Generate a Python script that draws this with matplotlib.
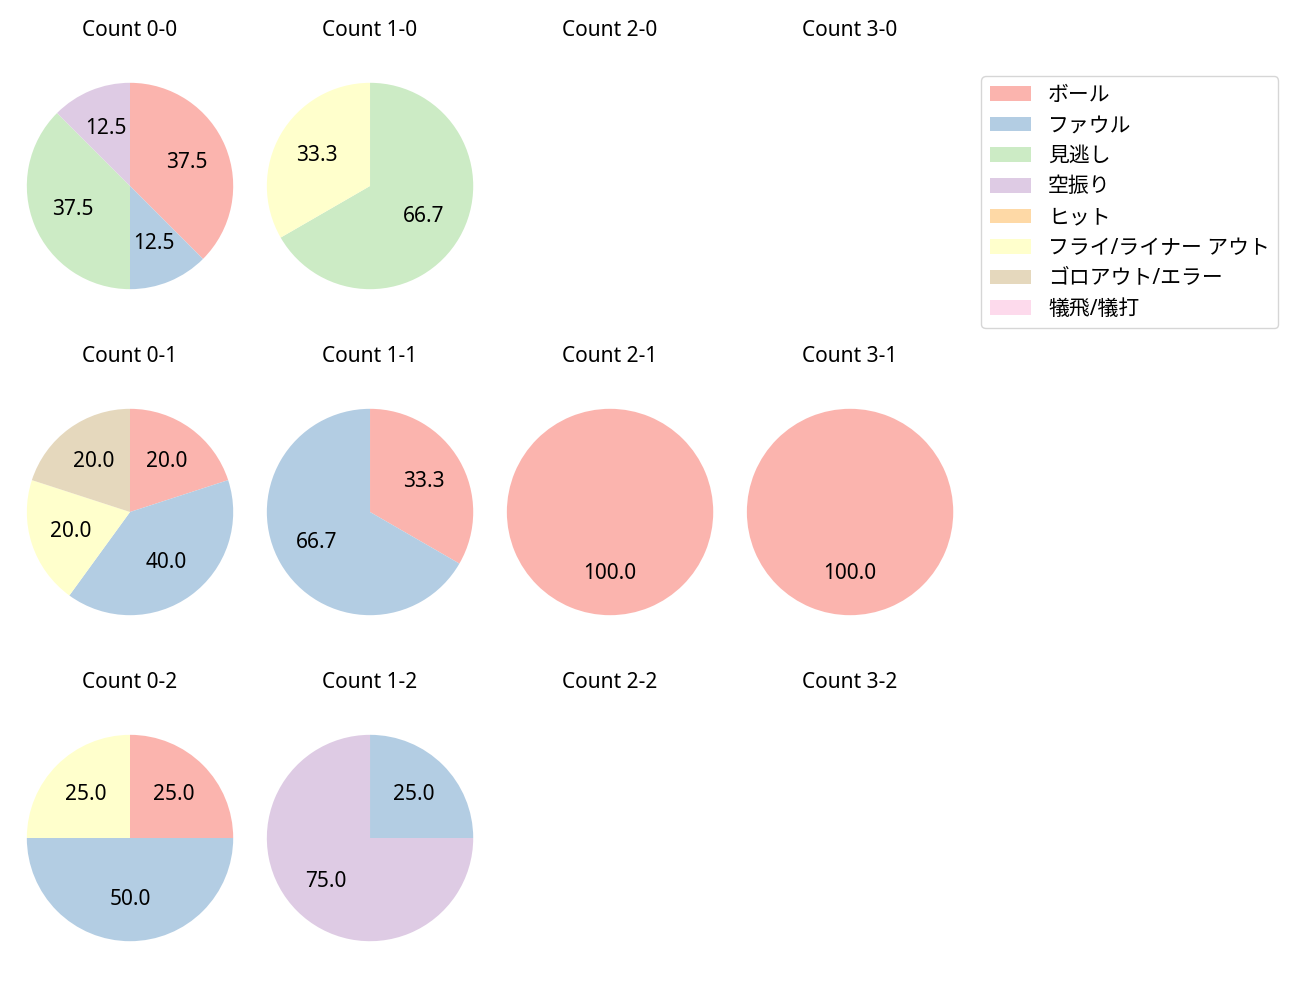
import matplotlib

matplotlib.use("Agg")
import matplotlib.pyplot as plt
from matplotlib.patches import Patch

plt.rcParams["font.family"] = ["Noto Sans", "Noto Sans CJK JP", "DejaVu Sans"]
plt.rcParams["font.size"] = 15

categories = [
    "ボール",
    "ファウル",
    "見逃し",
    "空振り",
    "ヒット",
    "フライ/ライナー アウト",
    "ゴロアウト/エラー",
    "犠飛/犠打",
]
colors = ["#fbb4ae", "#b3cde3", "#ccebc5", "#decbe4", "#fed9a6", "#ffffcc", "#e5d8bd", "#fddaec"]

# pitch counts per category (same order as categories)
balls = [0, 1, 2, 3]
strikes = [0, 1, 2]
count_0_0 = [3, 1, 3, 1, 0, 0, 0, 0]
count_1_0 = [0, 0, 2, 0, 0, 1, 0, 0]
count_2_0 = [0, 0, 0, 0, 0, 0, 0, 0]
count_3_0 = [0, 0, 0, 0, 0, 0, 0, 0]
count_0_1 = [1, 2, 0, 0, 0, 1, 1, 0]
count_1_1 = [1, 2, 0, 0, 0, 0, 0, 0]
count_2_1 = [1, 0, 0, 0, 0, 0, 0, 0]
count_3_1 = [1, 0, 0, 0, 0, 0, 0, 0]
count_0_2 = [1, 2, 0, 0, 0, 1, 0, 0]
count_1_2 = [0, 1, 0, 3, 0, 0, 0, 0]
count_2_2 = [0, 0, 0, 0, 0, 0, 0, 0]
count_3_2 = [0, 0, 0, 0, 0, 0, 0, 0]

table = {
    (0, 0): count_0_0, (1, 0): count_1_0, (2, 0): count_2_0, (3, 0): count_3_0,
    (0, 1): count_0_1, (1, 1): count_1_1, (2, 1): count_2_1, (3, 1): count_3_1,
    (0, 2): count_0_2, (1, 2): count_1_2, (2, 2): count_2_2, (3, 2): count_3_2,
}

fig, axes = plt.subplots(3, 4, figsize=(13, 10), dpi=100)
fig.subplots_adjust(left=0.0127, right=0.7412, top=0.946, bottom=0.030,
                    wspace=0.0573, hspace=0.235)

for s in strikes:
    for b in balls:
        ax = axes[s][b]
        vals = table[(b, s)]
        ax.set_title(f"Count {b}-{s}", fontsize=15, pad=13)
        if sum(vals) == 0:
            ax.axis("off")
            continue
        sizes = [v for v in vals if v > 0]
        cols = [c for v, c in zip(vals, colors) if v > 0]
        ax.pie(sizes, colors=cols, startangle=90, counterclock=False,
               autopct="%.1f", textprops={"fontsize": 15})
        ax.axis("equal")

handles = [Patch(facecolor=c, label=l) for c, l in zip(colors, categories)]
fig.legend(handles=handles, loc="upper left", labelspacing=0.46,
           bbox_to_anchor=(971 / 1300, 1 - 66 / 1000), fontsize=15)

fig.savefig("out.png", dpi=100)
